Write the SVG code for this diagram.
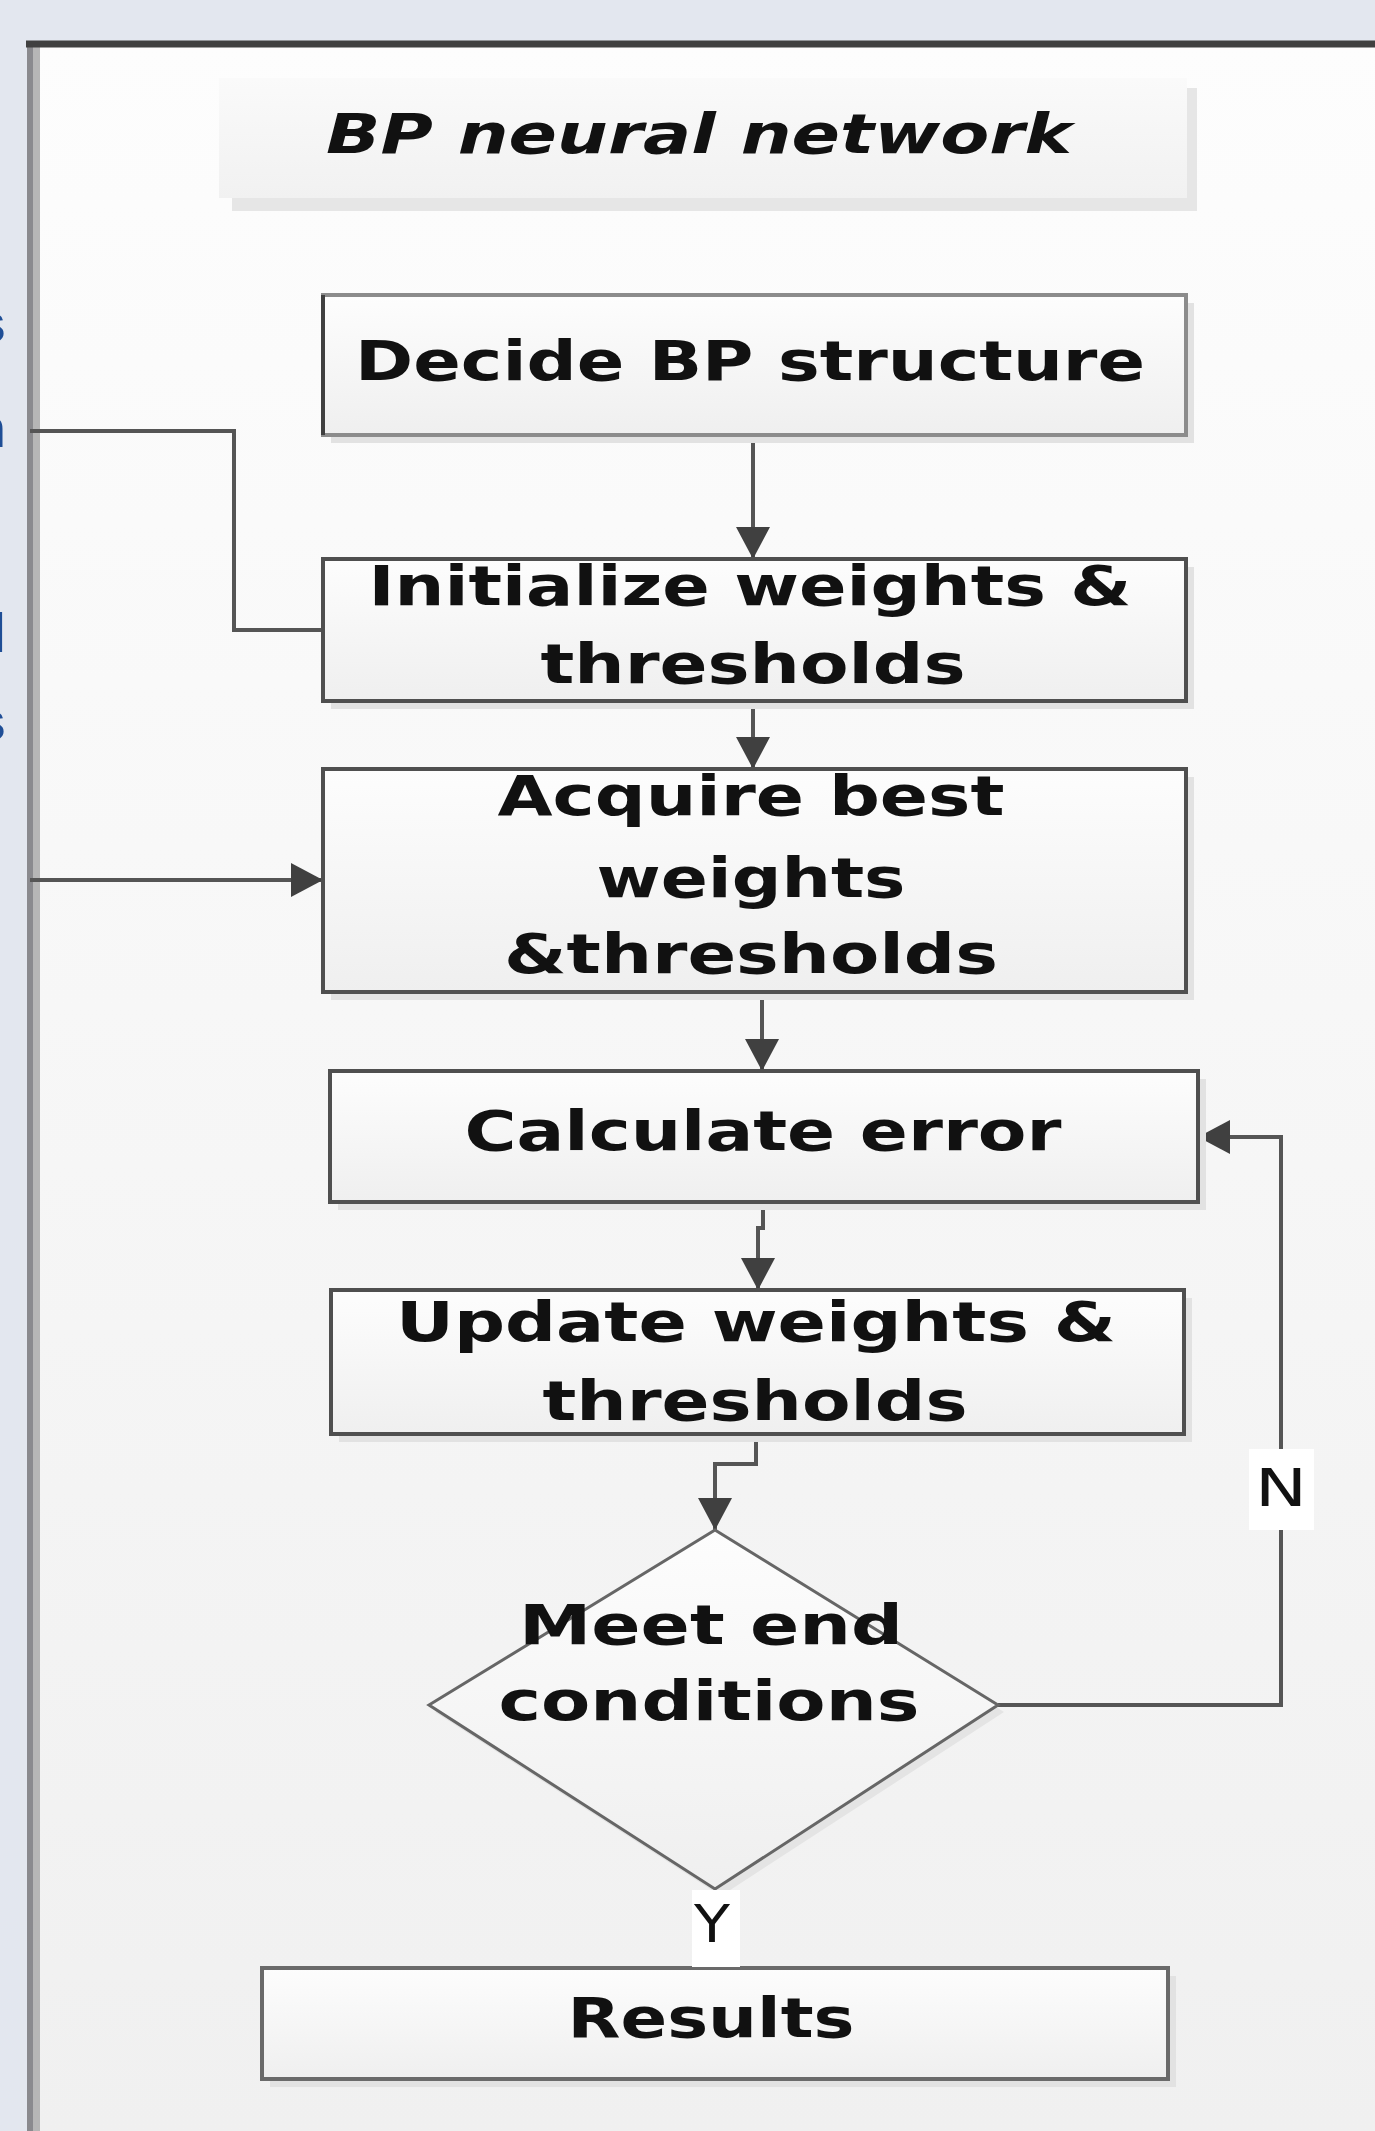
<svg xmlns="http://www.w3.org/2000/svg" width="1375" height="2131" viewBox="0 0 1375 2131">
<style>
.box{stroke:#4f4f4f;stroke-width:4;fill:url(#boxg)}
.shadow{fill:#e2e2e2}
.t{font-family:"DejaVu Sans","Liberation Sans",sans-serif;font-weight:bold;font-size:55px;fill:#111;text-anchor:middle}
.lbl{font-family:"DejaVu Sans","Liberation Sans",sans-serif;font-size:51px;fill:#111;text-anchor:middle}
.edge{fill:none;stroke:#555;stroke-width:4}
.frag{font-family:"Liberation Sans",sans-serif;font-weight:bold;font-size:56px;fill:#1f4e96;text-anchor:end}
</style>
<defs>
<linearGradient id="panelg" x1="0" y1="0" x2="0" y2="1">
<stop offset="0" stop-color="#fdfdfd"/><stop offset="1" stop-color="#f0f0f0"/>
</linearGradient>
<linearGradient id="boxg" x1="0" y1="0" x2="0" y2="1">
<stop offset="0" stop-color="#fdfdfd"/><stop offset="1" stop-color="#efefef"/>
</linearGradient>
<linearGradient id="titleg" x1="0" y1="0" x2="0" y2="1">
<stop offset="0" stop-color="#fafafa"/><stop offset="1" stop-color="#f1f1f1"/>
</linearGradient>
<marker id="arr" markerUnits="userSpaceOnUse" markerWidth="32" markerHeight="34" refX="32" refY="17" orient="auto">
<path d="M0,0 L32,17 L0,34 z" fill="#404040"/>
</marker>
</defs>

<rect x="0" y="0" width="1375" height="2131" fill="#e3e7ef"/>
<g id="fragments">
<text class="frag" x="6" y="342">s</text>
<text class="frag" x="6" y="447">n</text>
<text class="frag" x="6" y="652" font-size="80">l</text>
<text class="frag" x="6" y="740">s</text>
</g>
<g id="panel">
<rect x="27" y="41" width="1348" height="2090" fill="url(#panelg)"/>
<rect x="27" y="41" width="6" height="2090" fill="#8a8a8e"/>
<rect x="33" y="41" width="7" height="2090" fill="#b6b6b6"/>
<line x1="26" y1="44" x2="1375" y2="44" stroke="#404040" stroke-width="7"/>
</g>

<g id="title">
<rect x="232" y="88" width="965" height="123" fill="#e6e6e6"/>
<rect x="219" y="78" width="968" height="120" fill="url(#titleg)"/>
<text x="699" y="153" class="t" font-style="italic" font-size="56" textLength="746" lengthAdjust="spacingAndGlyphs">BP neural network</text>
</g>

<g id="connectors">
<line class="edge" x1="753" y1="435" x2="753" y2="559" marker-end="url(#arr)"/>
<line class="edge" x1="753" y1="701" x2="753" y2="769" marker-end="url(#arr)"/>
<line class="edge" x1="762" y1="992" x2="762" y2="1071" marker-end="url(#arr)"/>
<path class="edge" d="M763,1202 V1228 H758 V1290" marker-end="url(#arr)"/>
<path class="edge" d="M756,1434 V1464 H715 V1530" marker-end="url(#arr)"/>
<path class="edge" d="M998,1705 H1281 V1137 H1198" marker-end="url(#arr)"/>
<line class="edge" x1="715" y1="1889" x2="715" y2="1968"/>
<path class="edge" d="M30,431 H234 V630 H323" stroke="#6a6a6a"/>
<line class="edge" x1="30" y1="880" x2="323" y2="880" stroke="#6a6a6a" marker-end="url(#arr)"/>
<rect x="1249" y="1449" width="65" height="81" fill="#ffffff"/>
<text class="lbl" x="1281" y="1506" textLength="52" lengthAdjust="spacingAndGlyphs">N</text>
</g>

<g id="decide">
<rect class="shadow" x="331" y="303" width="863" height="140"/>
<rect class="box" x="323" y="295" width="863" height="140" style="stroke:#8c8c8c"/>
<line x1="323" y1="295" x2="323" y2="435" stroke="#404040" stroke-width="4"/>
<text class="t" x="750" y="380" textLength="790" lengthAdjust="spacingAndGlyphs">Decide BP structure</text>
</g>

<g id="initialize">
<rect class="shadow" x="331" y="567" width="863" height="142"/>
<rect class="box" x="323" y="559" width="863" height="142"/>
<text class="t" x="750" y="605" textLength="763" lengthAdjust="spacingAndGlyphs">Initialize weights &amp;</text>
<text class="t" x="753" y="683" textLength="425" lengthAdjust="spacingAndGlyphs">thresholds</text>
</g>

<g id="acquire">
<rect class="shadow" x="331" y="777" width="863" height="223"/>
<rect class="box" x="323" y="769" width="863" height="223"/>
<text class="t" x="751" y="815" textLength="507" lengthAdjust="spacingAndGlyphs">Acquire best</text>
<text class="t" x="751" y="897" textLength="309" lengthAdjust="spacingAndGlyphs">weights</text>
<text class="t" x="751" y="973" textLength="494" lengthAdjust="spacingAndGlyphs">&amp;thresholds</text>
</g>

<g id="calculate">
<rect class="shadow" x="338" y="1079" width="868" height="131"/>
<rect class="box" x="330" y="1071" width="868" height="131"/>
<text class="t" x="763" y="1150" textLength="597" lengthAdjust="spacingAndGlyphs">Calculate error</text>
</g>

<g id="update">
<rect class="shadow" x="339" y="1298" width="853" height="144"/>
<rect class="box" x="331" y="1290" width="853" height="144"/>
<text class="t" x="756" y="1341" textLength="720" lengthAdjust="spacingAndGlyphs">Update weights &amp;</text>
<text class="t" x="755" y="1420" textLength="425" lengthAdjust="spacingAndGlyphs">thresholds</text>
</g>

<g id="decision">
<polygon points="721,1537 1004,1712 721,1896 435,1712" fill="#e4e4e4"/>
<polygon points="715,1530 998,1705 715,1889 429,1705" fill="url(#boxg)" stroke="#666" stroke-width="3"/>
<text class="t" x="711" y="1644" textLength="384" lengthAdjust="spacingAndGlyphs">Meet end</text>
<text class="t" x="709" y="1720" textLength="421" lengthAdjust="spacingAndGlyphs">conditions</text>
</g>

<g id="results">
<rect class="shadow" x="270" y="1976" width="906" height="111"/>
<rect class="box" x="262" y="1968" width="906" height="111" style="stroke:#6a6a6a"/>
<text class="t" x="711" y="2037" textLength="287" lengthAdjust="spacingAndGlyphs">Results</text>
</g>
<g id="y-label">
<rect x="692" y="1890" width="48" height="77" fill="#ffffff"/>
<text class="lbl" x="712" y="1942" textLength="36" lengthAdjust="spacingAndGlyphs">Y</text>
</g>
</svg>
